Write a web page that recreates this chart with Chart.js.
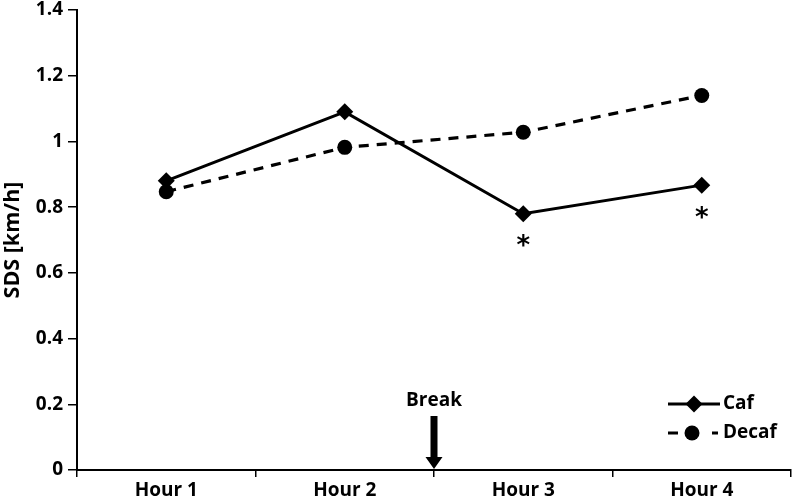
<!DOCTYPE html>
<html>
<head>
<meta charset="utf-8">
<script src="https://cdn.jsdelivr.net/npm/chart.js@4/dist/chart.umd.min.js"></script>
<style>
  html, body { margin: 0; padding: 0; background: #fff; }
  #wrap { width: 793px; height: 499px; }
</style>
</head>
<body>
<div id="wrap"><canvas id="c" width="793" height="499"></canvas></div>
<script>
const categories = ['Hour 1', 'Hour 2', 'Hour 3', 'Hour 4'];
const cafValues = [0.88, 1.09, 0.78, 0.867];
const decafValues = [0.847, 0.982, 1.028, 1.14];
const cafSignificant = [false, false, true, true];
const breakLabel = 'Break';
const breakAfterIndex = 1;
const yTitle = 'SDS [km/h]';

const FONT = '"Open Sans"';
const FSIZE = 19;

const annotations = {
  id: 'annotations',
  afterDatasetsDraw(chart) {
    const ctx = chart.ctx;
    const xs = chart.scales.x;
    const area = chart.chartArea;
    ctx.save();
    ctx.fillStyle = '#000';
    ctx.strokeStyle = '#000';

    // Break arrow
    const bx = (xs.getPixelForValue(breakAfterIndex) + xs.getPixelForValue(breakAfterIndex + 1)) / 2;
    const tip = area.bottom - 1;
    ctx.beginPath();
    ctx.moveTo(bx - 3.5, tip - 53);
    ctx.lineTo(bx + 3.5, tip - 53);
    ctx.lineTo(bx + 3.5, tip - 12);
    ctx.lineTo(bx + 8.5, tip - 12);
    ctx.lineTo(bx, tip);
    ctx.lineTo(bx - 8.5, tip - 12);
    ctx.lineTo(bx - 3.5, tip - 12);
    ctx.closePath();
    ctx.fill();
    ctx.font = 'bold ' + FSIZE + 'px ' + FONT;
    ctx.textAlign = 'center';
    ctx.textBaseline = 'middle';
    ctx.fillText(breakLabel, bx, tip - 68);

    // Asterisks below significant Caf points
    const cafMeta = chart.getDatasetMeta(0);
    ctx.font = 'bold 26px DejaVu Sans';
    cafSignificant.forEach((s, i) => {
      if (!s) return;
      const p = cafMeta.data[i];
      ctx.fillText('*', p.x, p.y + 34);
    });

    // Legend (bottom-right inside plot)
    const lx0 = area.right - 123, lx1 = area.right - 71, lmid = (lx0 + lx1) / 2;
    const ly1 = area.bottom - 66, ly2 = area.bottom - 37;
    ctx.lineWidth = 3;
    ctx.setLineDash([]);
    ctx.beginPath();
    ctx.moveTo(lx0, ly1); ctx.lineTo(lx1, ly1); ctx.stroke();
    ctx.beginPath();
    ctx.moveTo(lmid, ly1 - 8.5); ctx.lineTo(lmid + 8.5, ly1); ctx.lineTo(lmid, ly1 + 8.5); ctx.lineTo(lmid - 8.5, ly1);
    ctx.closePath(); ctx.fill();
    ctx.beginPath();
    ctx.moveTo(lx0, ly2); ctx.lineTo(lx0 + 10, ly2);
    ctx.moveTo(lx1 - 8, ly2); ctx.lineTo(lx1 - 2, ly2);
    ctx.stroke();
    ctx.beginPath();
    ctx.arc(lmid - 2, ly2, 7.5, 0, Math.PI * 2);
    ctx.fill();
    ctx.font = 'bold ' + FSIZE + 'px ' + FONT;
    ctx.textAlign = 'left';
    ctx.fillText(chart.data.datasets[0].label, lx1 + 3, ly1);
    ctx.fillText(chart.data.datasets[1].label, lx1 + 3, ly2);
    ctx.restore();
  }
};

new Chart(document.getElementById('c'), {
  type: 'line',
  data: {
    labels: categories,
    datasets: [
      {
        label: 'Caf',
        data: cafValues,
        borderColor: '#000',
        backgroundColor: '#000',
        borderWidth: 3,
        pointStyle: 'rectRot',
        pointRadius: 8.5,
        pointBorderWidth: 0,
        tension: 0
      },
      {
        label: 'Decaf',
        data: decafValues,
        borderColor: '#000',
        backgroundColor: '#000',
        borderWidth: 3.2,
        borderDash: [10, 8],
        pointStyle: 'circle',
        pointRadius: 7.5,
        pointBorderWidth: 0,
        tension: 0
      }
    ]
  },
  options: {
    responsive: false,
    animation: false,
    devicePixelRatio: 1,
    layout: { autoPadding: false, padding: { top: 10, right: 2, left: 0, bottom: 0 } },
    plugins: { legend: { display: false }, tooltip: { enabled: false } },
    scales: {
      x: {
        offset: true,
        grid: { offset: true, drawOnChartArea: false, drawTicks: true, tickLength: 7, color: '#000', lineWidth: 1.5 },
        border: { display: true, color: '#000', width: 2 },
        ticks: { color: '#000', font: { family: FONT, size: FSIZE, weight: 'bold' }, padding: 2, maxRotation: 0 },
        afterFit(scale) { scale.height = 29; scale.paddingLeft = 0; scale.paddingRight = 0; }
      },
      y: {
        min: 0, max: 1.4,
        grid: { drawOnChartArea: false, drawTicks: true, tickLength: 9, color: '#000', lineWidth: 1.5 },
        border: { display: true, color: '#000', width: 2 },
        ticks: {
          stepSize: 0.2, color: '#000', font: { family: FONT, size: FSIZE, weight: 'bold' }, padding: 5,
          callback: (v) => String(+Number(v).toFixed(1))
        },
        title: { display: true, text: yTitle, color: '#000', font: { family: FONT, size: 21.5, weight: 'bold' }, padding: { top: 0, bottom: 0 } },
        afterFit(scale) { scale.width = 77; scale.paddingTop = 0; scale.paddingBottom = 0; }
      }
    }
  },
  plugins: [annotations]
});
</script>
</body>
</html>
